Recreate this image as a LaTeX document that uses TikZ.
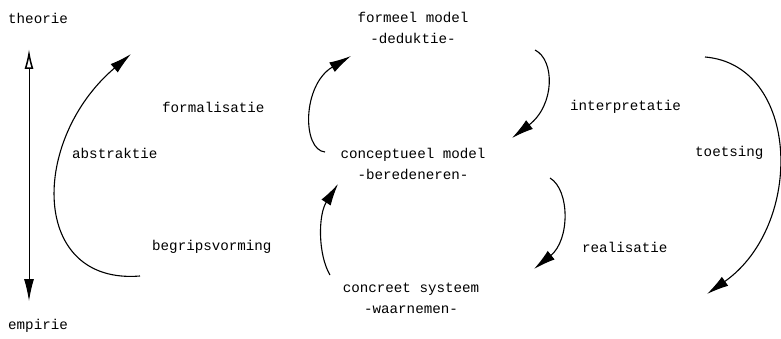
\documentclass[tikz,border=0pt]{standalone}
\usepackage{fontspec}
\newfontfamily\twfont{Liberation Mono}
\usetikzlibrary{arrows.meta}
\tikzset{
  lbl/.style={font=\twfont\fontsize{14.2}{21}\selectfont, inner sep=0pt, anchor=west},
  ctr/.style={font=\twfont\fontsize{14.2}{21}\selectfont, inner sep=0pt, align=center},
  flow/.style={line width=1.1pt, -{Latex[length=22pt,width=11pt]}},
  axis/.style={line width=1pt, {Latex[open,length=20pt,width=9pt,line width=1.5pt]}-{Latex[length=22pt,width=10pt]}}
}
\begin{document}
\begin{tikzpicture}[x=1pt,y=-1pt]
\useasboundingbox (0,0) rectangle (781,339);
% texts
\node[lbl] (theorie) at (8,18) {theorie};
\node[lbl] (empirie) at (8,326) {empirie};
\node[ctr] (formeel) at (413,27.5) {formeel model\\-deduktie-};
\node[ctr] (concept) at (413,163.5) {conceptueel model\\-beredeneren-};
\node[ctr] (concreet) at (411,298) {concreet systeem\\-waarnemen-};
\node[lbl] (formal) at (162,107) {formalisatie};
\node[lbl] (abstr) at (72,153) {abstraktie};
\node[lbl] (begrip) at (152,247) {begripsvorming};
\node[lbl] (interp) at (570,107) {interpretatie};
\node[lbl] (toets) at (695,153) {toetsing};
\node[lbl] (realis) at (582,247) {realisatie};
% connector end points
\coordinate (axT) at (29,49);
\coordinate (axB) at (29,301);
\coordinate (abS) at (140,276);
\coordinate (abE) at (131,54);
\coordinate (foS) at (325,152);
\coordinate (foE) at (351,56);
\coordinate (inS) at (535,50);
\coordinate (inE) at (512,138);
\coordinate (reS) at (550,178);
\coordinate (reE) at (534,269);
\coordinate (beS) at (330,275);
\coordinate (beE) at (338,184);
\coordinate (toS) at (705,57);
\coordinate (toE) at (707,294);
% connectors
\draw[axis] (axT) -- (axB);
\draw[flow] (abS) .. controls (30,285) and (30,140) .. (abE);
\draw[flow] (foS) .. controls (302,150) and (302,85) .. (foE);
\draw[flow] (inS) .. controls (555,60) and (555,105) .. (inE);
\draw[flow] (reS) .. controls (570,190) and (570,240) .. (reE);
\draw[flow] (beS) .. controls (318,255) and (318,215) .. (beE);
\draw[flow] (toS) .. controls (800,65) and (805,225) .. (toE);
\end{tikzpicture}
\end{document}
